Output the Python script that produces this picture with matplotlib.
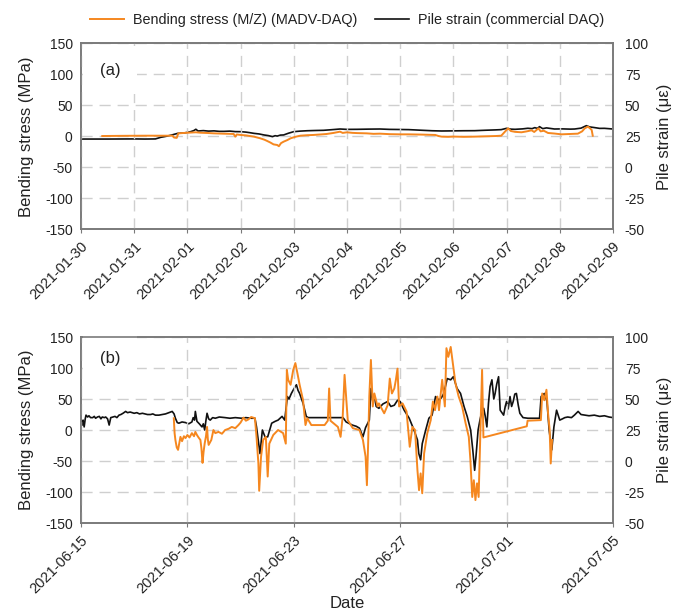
import numpy as np
import pandas as pd
import matplotlib
matplotlib.use("Agg")
import matplotlib.pyplot as plt
import matplotlib.dates as mdates

plt.rcParams['font.family'] = ['Liberation Sans', 'DejaVu Sans']
plt.rcParams['axes.unicode_minus'] = False

ORANGE = '#f5871f'
BLACK = '#111111'
FRAME = '#7a7a7a'
GRID = '#cfcfcf'
TEXT = '#222222'

# ---- panel (a): 2021-01-30 .. 2021-02-09, x = days from start ----
a_start = "2021-01-30"
a_strain_days = [0.0, 0.5, 1.0, 1.2, 1.4, 1.5, 1.6, 1.7, 1.75, 1.82, 1.95, 2.05, 2.12, 2.16, 2.2,
                 2.3, 2.4, 2.5, 2.6, 2.69, 2.8, 2.9, 3.0, 3.1, 3.18, 3.25, 3.35, 3.44, 3.52, 3.6,
                 3.65, 3.69, 3.75, 3.81, 3.9, 4.0, 4.12, 4.25, 4.4, 4.56, 4.7, 4.87, 5.0, 5.19,
                 5.4, 5.62, 5.8, 6.0, 6.16, 6.4, 6.6, 6.78, 7.0, 7.2, 7.4, 7.6, 7.8, 7.9, 8.0,
                 8.08, 8.16, 8.3, 8.4, 8.48, 8.53, 8.58, 8.62, 8.68, 8.75, 8.9, 9.05, 9.2, 9.28,
                 9.4, 9.5, 9.56, 9.66, 9.75, 9.84, 10.0]
a_strain = [22.8, 22.8, 22.9, 22.8, 22.9, 24.2, 25.0, 26.0, 26.6, 27.4, 27.8, 28.6, 29.6, 30.7, 29.3,
            29.6, 29.2, 29.4, 29.0, 29.0, 29.2, 28.8, 28.75, 28.4, 27.9, 27.4, 26.9, 26.1, 25.6, 24.75,
            25.5, 25.2, 26.0, 26.1, 27.5, 28.75, 29.2, 29.5, 29.7, 29.85, 30.3, 30.9, 30.6, 30.65,
            30.8, 30.9, 30.6, 30.5, 30.4, 29.9, 29.5, 29.3, 29.4, 29.5, 29.55, 29.9, 30.2, 30.4, 31.45,
            30.8, 30.65, 31.0, 31.5, 31.2, 32.0, 31.4, 32.8, 31.2, 31.8, 30.9, 31.0, 30.8, 30.9,
            31.6, 33.6, 32.6, 32.0, 31.4, 31.45, 30.9]
a_stress_days = [0.4, 0.8, 1.2, 1.5, 1.72, 1.75, 1.8, 1.83, 1.95, 2.05, 2.16, 2.25, 2.37, 2.5,
                 2.6, 2.7, 2.8, 2.87, 2.9, 2.93, 3.0, 3.1, 3.25, 3.37, 3.45, 3.5, 3.56, 3.62,
                 3.69, 3.72, 3.76, 3.81, 3.88, 3.94, 4.02, 4.12, 4.25, 4.37, 4.5, 4.62, 4.75,
                 4.87, 4.92, 5.0, 5.1, 5.2, 5.37, 5.5, 5.62, 5.8, 6.0, 6.16, 6.4, 6.66, 6.72,
                 6.78, 6.9, 7.0, 7.2, 7.4, 7.6, 7.8, 7.9, 7.97, 8.03, 8.08, 8.16, 8.28, 8.38,
                 8.47, 8.52, 8.6, 8.64, 8.7, 8.78, 8.9, 9.03, 9.2, 9.34, 9.42, 9.47, 9.53, 9.58,
                 9.6, 9.62]
a_stress = [0.5, 0.8, 1.0, 1.0, 1.0, -2.0, -2.5, 4.8, 5.5, 6.0, 6.5, 5.8, 5.4, 4.8,
            4.5, 4.2, 4.0, 3.8, -0.5, 3.0, 2.2, 1.5, -0.5, -3.2, -5.5, -7.5, -10, -13,
            -14, -16, -11, -8.6, -6, -3.2, -1, 1.0, 1.8, 2.2, 3.0, 3.8, 5.5,
            7.5, 5.5, 6.5, 5.6, 5.2, 4.8, 4.0, 4.3, 3.5, 3.2, 3.2, 2.8, 2.2, 0.5,
            -0.5, -0.8, -0.4, -0.8, -0.5, 0.0, 0.5, 1.0, 7.5, 12.9, 8.6, 7.2, 6.5, 8.0,
            9.7, 7.0, 12.9, 8.0, 9.0, 5.4, 4.5, 3.2, 3.8, 4.3, 8.0, 12.9, 15.6, 12.0,
            10.2, 1.0]

# ---- panel (b): 2021-06-15 .. 2021-07-05 ----
b_start = "2021-06-15"
b_strain_days = [0.0, 0.05, 0.08, 0.12, 0.16, 0.19, 0.25, 0.3, 0.36, 0.44, 0.5, 0.55, 0.62,
                 0.69, 0.75, 0.8, 0.88, 0.93, 1.0, 1.06, 1.12, 1.2, 1.28, 1.35, 1.43, 1.5, 1.58,
                 1.68, 1.75, 1.85, 2.0, 2.1, 2.2, 2.31, 2.4, 2.5, 2.62, 2.7, 2.8, 2.93, 3.05,
                 3.18, 3.3, 3.43, 3.5, 3.55, 3.62, 3.68, 3.8, 3.93, 4.05, 4.17, 4.22, 4.27, 4.3,
                 4.36, 4.45, 4.55, 4.6, 4.65, 4.7, 4.74, 4.8, 4.86, 4.95, 5.05, 5.2, 5.42, 5.6,
                 5.8, 6.04, 6.2, 6.4, 6.54, 6.6, 6.73, 6.82, 6.92, 7.02, 7.17, 7.3, 7.41, 7.56,
                 7.66, 7.76, 7.82, 7.91, 8.0, 8.1, 8.16, 8.22, 8.35, 8.47, 8.54, 8.8, 9.16,
                 9.5, 9.85, 9.97, 10.2, 10.35, 10.47, 10.6, 10.7, 10.84, 10.9, 10.97, 11.03,
                 11.1, 11.2, 11.35, 11.53, 11.65, 11.78, 11.9, 12.0, 12.15, 12.34, 12.52, 12.65,
                 12.7, 12.77, 12.83, 12.96, 13.08, 13.2, 13.33, 13.46, 13.55, 13.64, 13.77, 13.9,
                 14.0, 14.14, 14.27, 14.4, 14.52, 14.65, 14.73, 14.8, 14.85, 14.93, 15.0, 15.07,
                 15.14, 15.2, 15.26, 15.32, 15.38, 15.45, 15.52, 15.57, 15.63, 15.7, 15.76,
                 15.89, 15.95, 16.0, 16.06, 16.13, 16.19, 16.25, 16.31, 16.37, 16.44, 16.5,
                 16.62, 16.8, 17.0, 17.24, 17.3, 17.42, 17.52, 17.6, 17.7, 17.78, 17.88, 18.0,
                 18.1, 18.19, 18.3, 18.44, 18.55, 18.69, 18.8, 18.94, 19.1, 19.3, 19.5, 19.68,
                 19.85, 20.0]
b_strain = [31.5, 29, 33, 27.5, 34, 37, 35.5, 36.5, 35, 35, 36, 34.5, 35.5,
            36, 34, 35.5, 35, 35.5, 34, 29, 35, 35.5, 36, 35, 37, 37.5, 38.5,
            40, 39, 39.5, 38.5, 39, 38, 38.5, 38, 37.5, 37.5, 38, 37, 37, 37.5,
            38, 39, 40, 38, 34.5, 31, 30.5, 31.5, 31, 30, 31.5, 35, 33, 40,
            32, 30, 27.5, 30, 25, 33, 38.5, 34, 33, 35, 34.5, 35.5, 35, 34.5,
            35, 34.5, 35, 34.5, 34.5, 27.5, 6, 25, 19.5, 19.5, 30.5, 32, 33, 36,
            33, 52, 50, 54.5, 58, 61.5, 57, 54.5, 46.5, 36, 35, 35, 35,
            35, 35, 31.5, 29, 28, 26.5, 19.5, 27, 33, 58.5, 48, 52,
            44, 42.5, 46, 48, 44, 45, 49, 48, 41, 34.5, 25, 17,
            6, 1, 14, 25, 34.5, 37, 52, 49, 51, 54.5, 66.5, 65.5,
            68, 58.5, 54.5, 44, 36, 25, 9, -7.5, 3.5, 25, 33, 40,
            42.5, 36, 27.5, 46.5, 60, 65.5, 50, 54.5, 62, 68, 41,
            37, 44, 48, 42, 52, 44, 48, 54, 54.5, 45, 38.5,
            35, 34.5, 34.5, 34.5, 52, 54.5, 48, 25, 9, 27.5, 41, 33,
            34, 35, 35.5, 35, 37, 40, 37.5, 37, 36.5, 37, 36, 36.5,
            35.5, 35]
b_stress_days = [3.49, 3.52, 3.55, 3.6, 3.65, 3.7, 3.74, 3.8, 3.87, 3.93, 4.0, 4.08, 4.17,
                 4.25, 4.3, 4.36, 4.42, 4.49, 4.53, 4.57, 4.61, 4.65, 4.7, 4.74, 4.77, 4.8,
                 4.85, 4.9, 4.94, 4.98, 5.05, 5.17, 5.3, 5.42, 5.55, 5.67, 5.8, 5.92, 6.0,
                 6.11, 6.2, 6.29, 6.4, 6.54, 6.6, 6.67, 6.7, 6.77, 6.85, 6.95, 7.02, 7.08,
                 7.23, 7.41, 7.6, 7.7, 7.74, 7.79, 7.88, 7.98, 8.06, 8.14, 8.22, 8.35, 8.44,
                 8.51, 8.66, 9.16, 9.28, 9.33, 9.38, 9.66, 9.76, 9.84, 9.91, 10.03, 10.22,
                 10.47, 10.6, 10.7, 10.75, 10.8, 10.84, 10.9, 10.97, 11.03, 11.15, 11.2, 11.4,
                 11.53, 11.61, 11.69, 11.78, 11.84, 11.9, 11.96, 12.09, 12.24, 12.36, 12.46,
                 12.56, 12.65, 12.71, 12.77, 12.83, 12.9, 13.02, 13.15, 13.23, 13.31, 13.4,
                 13.46, 13.58, 13.68, 13.74, 13.81, 13.9, 13.98, 14.08, 14.2, 14.33, 14.46,
                 14.58, 14.64, 14.71, 14.77, 14.83, 14.89, 14.95, 15.02, 15.08, 15.13, 16.76,
                 16.79, 17.29, 17.34, 17.42, 17.5, 17.56, 17.62, 17.66, 17.71]
b_stress = [19, -5, -16, -28, -32, -20, -11, -18, -10, -13, -8, -12, -5,
            -10, -3, -8, -12, -16, -30, -53, -35, -22, -10, 5, -15, -24,
            -20, -16, -8, 0, -5, -3, -6, 0, 2, 5, 3, 8, 12,
            20, 15, 17, 21, 19, -11, -54, -98, -43, -16, -11, -75, -22,
            -8, 0, -5, -22, 97, 81, 73, 97, 108, 91, 73, 48, 8,
            19, 8, 8, 15, 67, 15, 5, -11, 22, 89, 16, 3,
            0, -16, -43, -89, -16, 54, 113, 38, 59, 38, 43, 27,
            40, 83, 59, 67, 81, 99, 38, 43, 30, -27, 5,
            0, -65, -97, -70, -102, -38, -5, 16, 46, 32, 54,
            32, 81, 38, 132, 118, 134, 108, 75, 54, 38, 11,
            -11, -48, -108, -81, -113, -86, -108, 0, 97, -12, 6,
            15, 16, 59, 48, 65, 27, 0, -54, -16]

stress_ticks = [-150, -100, -50, 0, 50, 100, 150]
strain_ticks = [-50, -25, 0, 25, 50, 75, 100]


def to_dates(start, days):
    return pd.Timestamp(start) + pd.to_timedelta(np.asarray(days, dtype=float), unit="D")


fig = plt.figure(figsize=(6.77, 6.12), dpi=100)

panels = [
    dict(rect=[0.1196, 0.6253, 0.7858, 0.3039], start=a_start, end="2021-02-09",
         sd=a_stress_days, s=a_stress, ed=a_strain_days, e=a_strain, step=1, tag="(a)", tagy=0.856),
    dict(rect=[0.1196, 0.1454, 0.7858, 0.3039], start=b_start, end="2021-07-05",
         sd=b_stress_days, s=b_stress, ed=b_strain_days, e=b_strain, step=4, tag="(b)", tagy=0.882),
]

axes = []
for p in panels:
    ax = fig.add_axes(p["rect"])
    ax2 = ax.twinx()
    # orange line sits on top of the black one
    ax.set_zorder(ax2.get_zorder() + 1)
    ax.patch.set_visible(False)

    l1, = ax.plot(to_dates(p["start"], p["sd"]), p["s"], color=ORANGE, lw=1.4,
                  label="Bending stress (M/Z) (MADV-DAQ)")
    l2, = ax2.plot(to_dates(p["start"], p["ed"]), p["e"], color=BLACK, lw=1.2,
                   label="Pile strain (commercial DAQ)")

    ax.set_xlim(pd.Timestamp(p["start"]), pd.Timestamp(p["end"]))
    ax.set_ylim(-150, 150)
    ax2.set_ylim(-50, 100)
    ax.set_yticks(stress_ticks)
    ax2.set_yticks(strain_ticks)
    ax.xaxis.set_major_locator(mdates.DayLocator(interval=p["step"]))
    ax.xaxis.set_major_formatter(mdates.DateFormatter("%Y-%m-%d"))

    ax2.grid(True, axis="y", color=GRID, lw=1.0, ls=(0, (8, 5)))
    ax2.set_axisbelow(True)
    ax.grid(True, axis="x", color=GRID, lw=1.0, ls=(0, (8, 5)))
    ax.set_axisbelow(True)

    for a in (ax, ax2):
        for sp in a.spines.values():
            sp.set_color(FRAME)
            sp.set_linewidth(1.2)
            sp.set_zorder(6)
    ax.tick_params(axis="y", length=0, pad=6, labelsize=10, labelcolor=TEXT)
    ax2.tick_params(axis="y", length=0, pad=8.5, labelsize=10, labelcolor=TEXT)
    ax.tick_params(axis="x", length=3, color=FRAME, pad=4, labelsize=10.5, labelcolor=TEXT)
    for lab in ax.get_xticklabels():
        lab.set_rotation(45)
        lab.set_ha("right")
        lab.set_rotation_mode("anchor")

    ax.set_ylabel("Bending stress (MPa)", fontsize=12, color=TEXT)
    ax.yaxis.set_label_coords(-0.089, 0.5)
    ax2.set_ylabel("Pile strain (με)", fontsize=12, color=TEXT)
    ax2.yaxis.set_label_coords(1.083, 0.5)

    ax.text(0.0545, p["tagy"], p["tag"], transform=ax.transAxes, fontsize=12, color=TEXT,
            ha="center", va="center", zorder=4,
            bbox=dict(facecolor="white", edgecolor="none", pad=12))
    axes.append(ax)

axes[1].set_xlabel("Date", fontsize=12, color=TEXT)
axes[1].xaxis.set_label_coords(0.5, -0.39)

fig.legend([l1, l2], [l1.get_label(), l2.get_label()], loc="center",
           bbox_to_anchor=(0.5125, 0.967), ncol=2, frameon=False, fontsize=10.4,
           handlelength=2.4, columnspacing=1.2, handletextpad=0.6, labelcolor=TEXT)

fig.savefig("out.png", dpi=100)
